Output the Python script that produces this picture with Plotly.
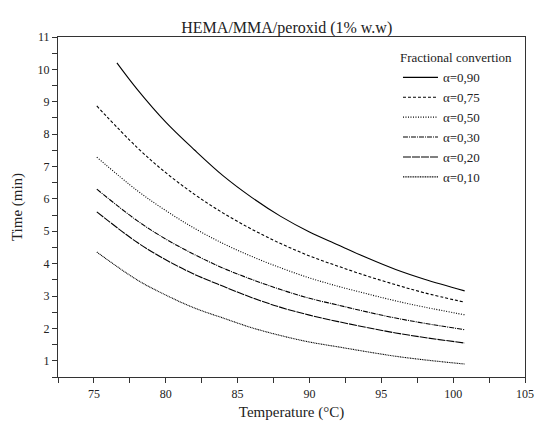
import plotly.graph_objects as go

# Temperature (°C) sample points
temp_090 = [76.6, 78, 80, 82, 84, 86, 88, 90, 92, 94, 96, 98, 100.8]
temp = [75.2, 78, 80, 82, 84, 86, 88, 90, 92, 94, 96, 98, 100.8]

# Time (min) for each fractional conversion
time_090 = [10.2, 9.39, 8.37, 7.51, 6.71, 6.04, 5.46, 4.98, 4.58, 4.18, 3.82, 3.52, 3.16]
time_075 = [8.87, 7.59, 6.81, 6.14, 5.56, 5.06, 4.62, 4.24, 3.92, 3.62, 3.35, 3.10, 2.81]
time_050 = [7.29, 6.26, 5.64, 5.09, 4.62, 4.22, 3.87, 3.56, 3.30, 3.07, 2.85, 2.66, 2.42]
time_030 = [6.30, 5.33, 4.76, 4.28, 3.86, 3.51, 3.20, 2.93, 2.72, 2.51, 2.32, 2.16, 1.96]
time_020 = [5.60, 4.66, 4.12, 3.67, 3.30, 2.95, 2.65, 2.41, 2.21, 2.03, 1.86, 1.72, 1.55]
time_010 = [4.36, 3.50, 3.03, 2.63, 2.32, 2.02, 1.78, 1.58, 1.43, 1.28, 1.14, 1.03, 0.90]

labels = ["α=0,90", "α=0,75", "α=0,50", "α=0,30", "α=0,20", "α=0,10"]
xs = [temp_090, temp, temp, temp, temp, temp]
ys = [time_090, time_075, time_050, time_030, time_020, time_010]
dashes = ["solid", "3px,2px", "1px,1.5px", "5px,1px,1px,1px", "8px,1px", "1px,0.7px"]

FONT = "'Liberation Serif', 'Times New Roman', Times, serif"

fig = go.Figure()
for x, y, name, d in zip(xs, ys, labels, dashes):
    fig.add_trace(go.Scatter(
        x=x, y=y, name=name, mode="lines",
        line=dict(color="black", width=1.1, dash=d, shape="spline", smoothing=1.0),
    ))

axis_common = dict(
    automargin=False,
    showgrid=False, zeroline=False,
    showline=True, linecolor="#333", linewidth=1.2, mirror=True,
    ticks="outside", ticklen=5, tickwidth=1, tickcolor="#333",
    tickfont=dict(family=FONT, size=12, color="#222"),
)

fig.update_xaxes(
    range=[72.5, 105], tick0=75, dtick=5,
    minor=dict(ticks="outside", ticklen=5, tickwidth=1, tickcolor="#333", dtick=2.5, tick0=72.5),
    title=dict(text="Temperature (°C)", font=dict(family=FONT, size=15, color="#222"), standoff=6),
    ticklabeloverflow="allow",
    **axis_common,
)
fig.update_yaxes(
    range=[0.5, 11], tick0=1, dtick=1,
    minor=dict(ticks="outside", ticklen=5, tickwidth=1, tickcolor="#333", dtick=0.5, tick0=0.5),
    title=dict(text="Time (min)", font=dict(family=FONT, size=15, color="#222"), standoff=11),
    **axis_common,
)

fig.update_layout(
    width=535, height=426,
    margin=dict(l=58, r=10, t=37, b=49),
    paper_bgcolor="white", plot_bgcolor="white",
    font=dict(family=FONT, color="#222"),
    title=dict(text="HEMA/MMA/peroxid (1% w.w)", font=dict(family=FONT, size=16, color="#222"),
               x=0.536, xanchor="center", y=1 - 27 / 426, yanchor="middle", yref="container"),
    showlegend=True,
    legend=dict(
        title=dict(text="Fractional convertion", font=dict(family=FONT, size=13, color="#222")),
        font=dict(family=FONT, size=13, color="#222"),
        x=0.728, xanchor="left", y=0.975, yanchor="top",
        bgcolor="rgba(0,0,0,0)", borderwidth=0,
        tracegroupgap=0, itemwidth=35,
    ),
)

# remove the default 8px page margin so the figure fills the 535x426 window exactly
fig.write_html("out.html", config={"displayModeBar": False},
               post_script="document.body.style.margin='0';")
